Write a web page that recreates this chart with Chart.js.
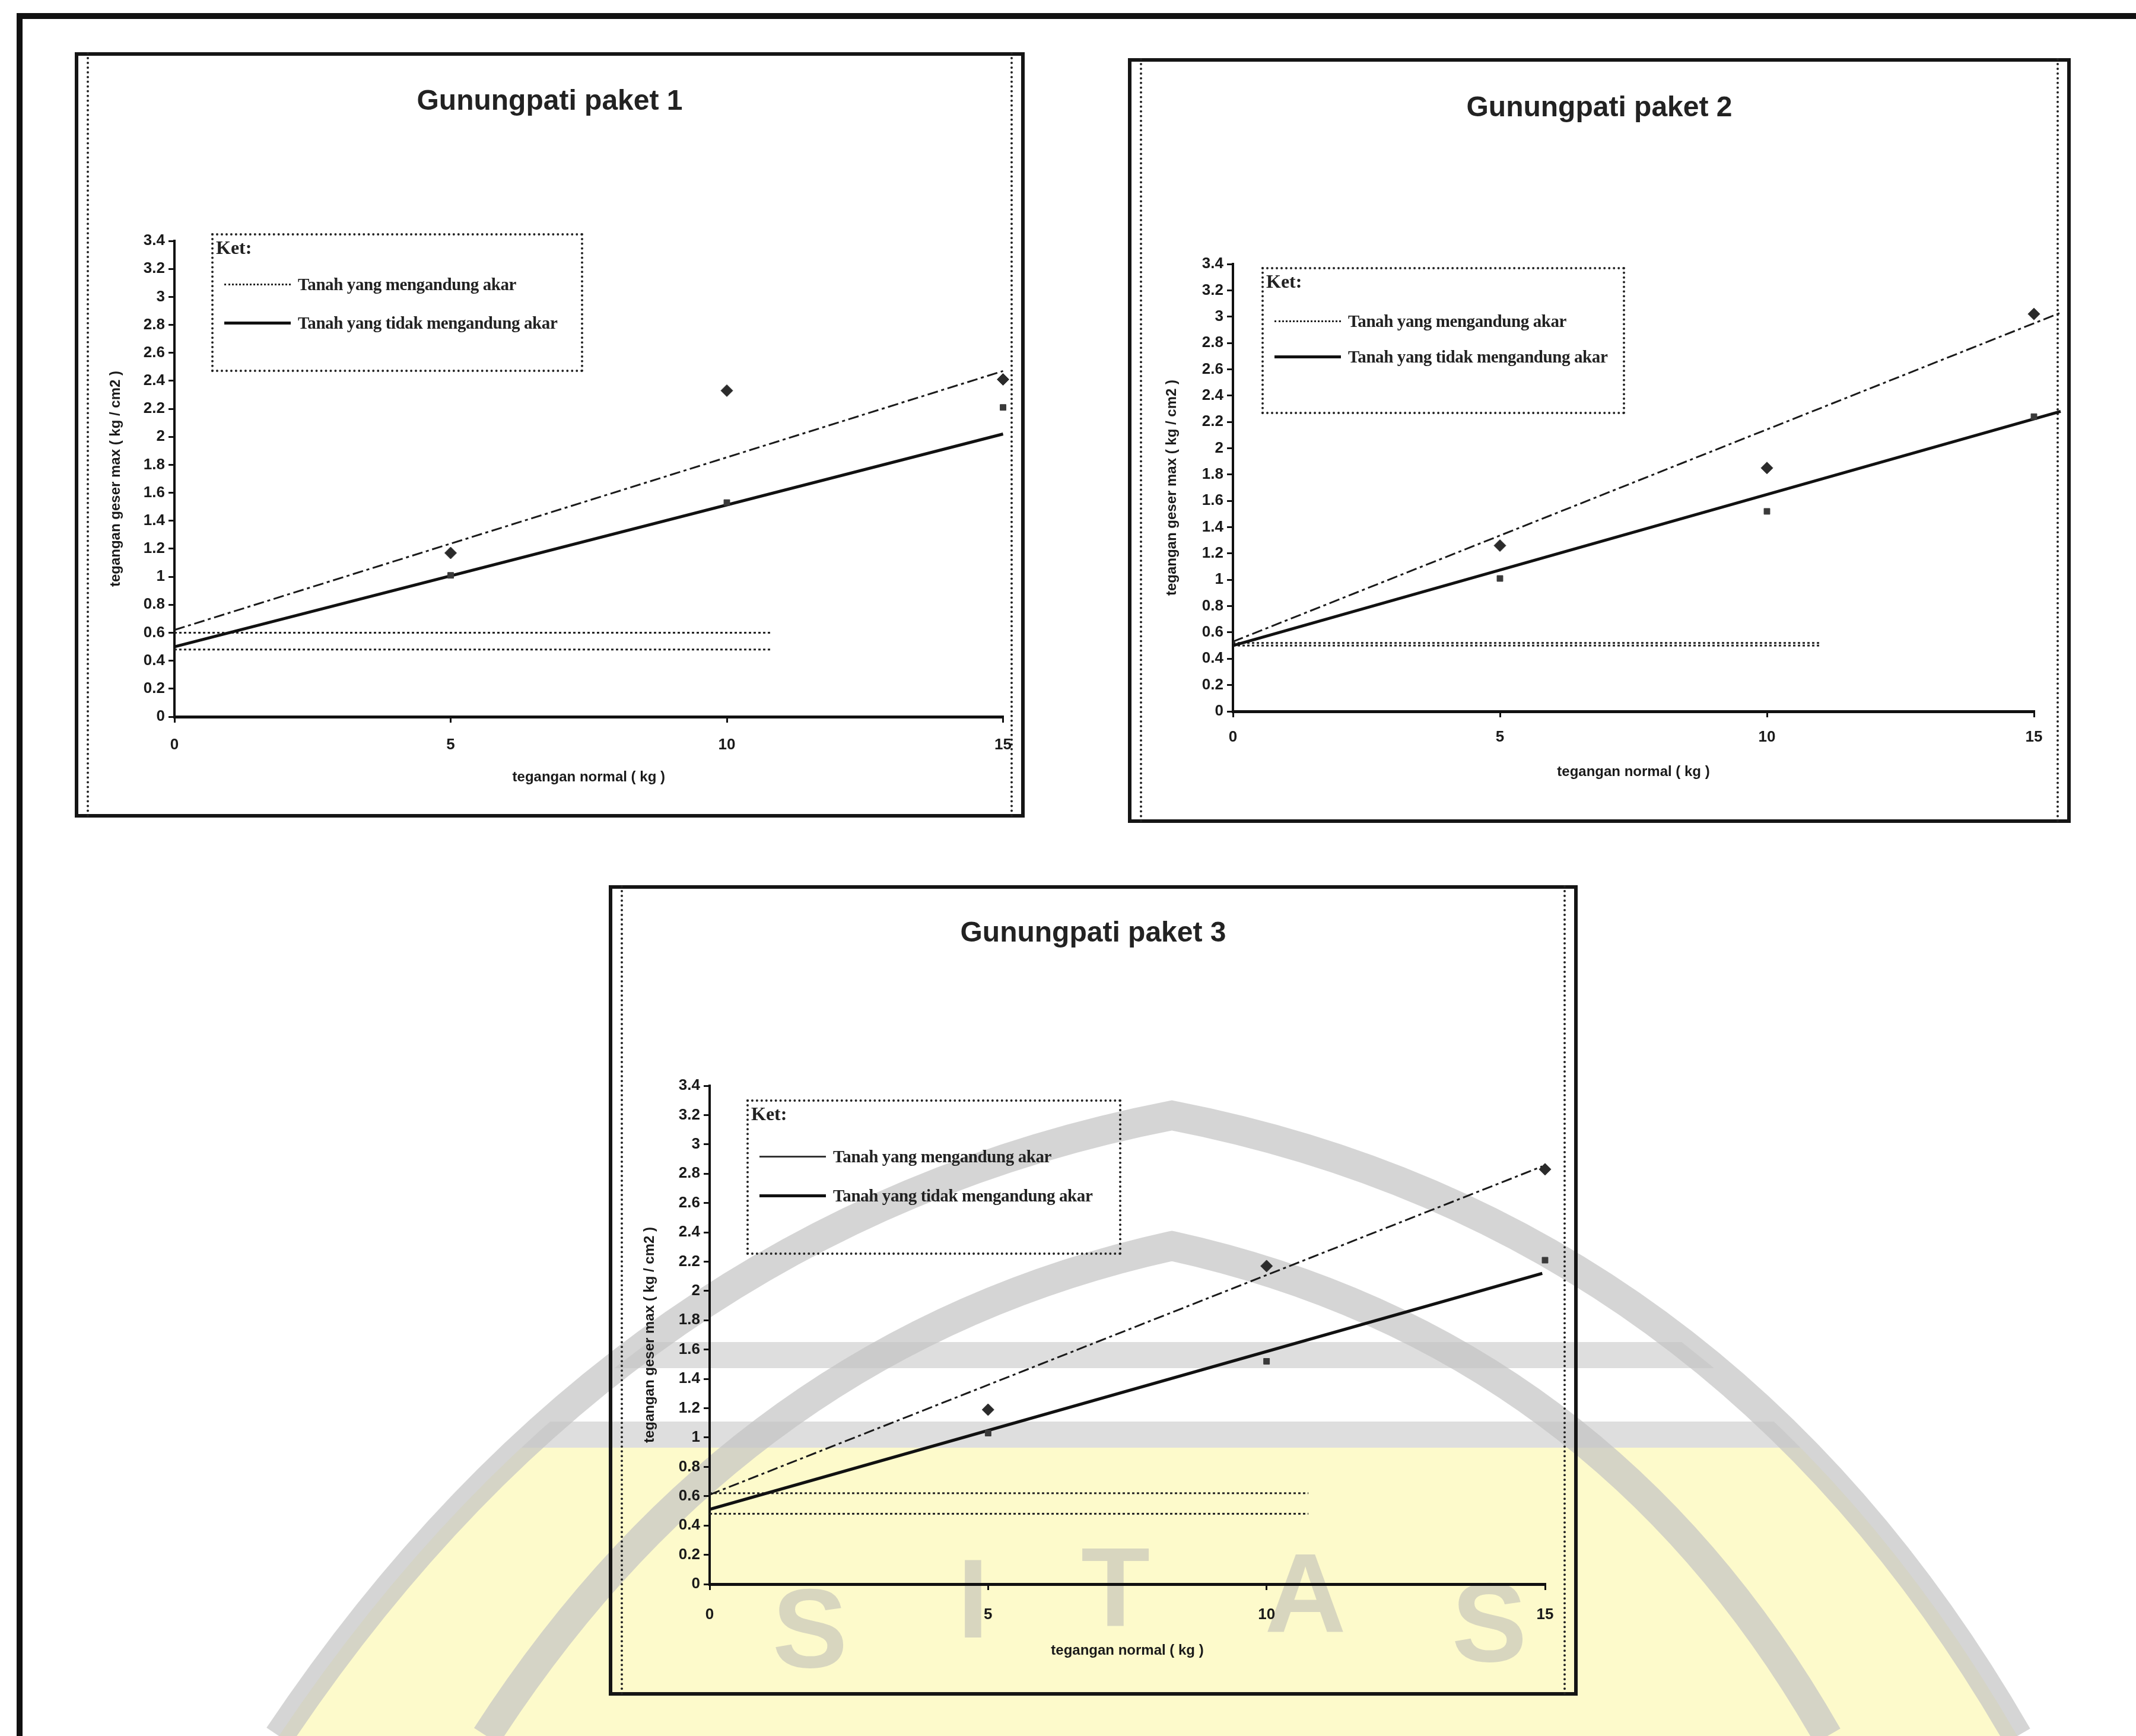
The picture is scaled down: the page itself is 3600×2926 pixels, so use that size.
<!DOCTYPE html>
<html>
<head>
<meta charset="utf-8">
<script src="https://cdn.jsdelivr.net/npm/chart.js@4.4.1/dist/chart.umd.min.js"></script>
<style>
  body { margin: 0; background: #fff; }
  #page { position: relative; width: 3600px; height: 2926px; overflow: hidden; background: #fff; }
  #wm { position: absolute; left: 0; top: 0; }
  .frameTop { position: absolute; left: 28px; top: 22px; width: 3572px; height: 10px; background: #111; }
  .frameLeft { position: absolute; left: 28px; top: 22px; width: 10px; height: 2904px; background: #111; }
  .box { position: absolute; box-sizing: border-box; border: 6px solid #151515; }
  .box .inner { position: absolute; top: -6px; bottom: -6px; left: 14px; right: 14px; border-left: 4px dotted #222; border-right: 4px dotted #222; }
  .panel canvas { position: absolute; }
  .title { position: absolute; font: bold 48px "Liberation Sans", Arial, sans-serif; color: #222; text-align: center; transform: translateY(-50%); }
  .legend { position: absolute; box-sizing: border-box; border: 4px dotted #222; font-family: "Liberation Serif", serif; font-weight: bold; color: #222; }
  .legend .ket { position: absolute; left: 4px; top: 2px; font-size: 32px; }
  .legend .row { position: absolute; left: 18px; height: 40px; display: flex; align-items: center; font-size: 29px; letter-spacing: -0.4px; white-space: nowrap; transform: translateY(-50%); }
  .legend .sample { width: 112px; margin-right: 12px; flex: none; }
</style>
</head>
<body>
<div id="page">
  <canvas id="wm" width="3600" height="2926"></canvas>
  <div class="frameTop"></div>
  <div class="frameLeft"></div>
</div>
<script>
// data
const xNormal = [5, 10, 15];
const seriesNames = ['Tanah yang mengandung akar', 'Tanah yang tidak mengandung akar'];
const yTicksMax = 3.4;

const p1Akar = [1.17, 2.33, 2.41];
const p1Tanpa = [1.01, 1.53, 2.21];
const p1TrendX = [0, 15];
const p1TrendAkar = [0.62, 2.47];
const p1TrendTanpa = [0.5, 2.02];
const p1Kohesi = [0.6, 0.48];
const p1KohesiX = [0, 10.8];

const p2Akar = [1.26, 1.85, 3.02];
const p2Tanpa = [1.01, 1.52, 2.24];
const p2TrendX = [0, 15.5];
const p2TrendAkar = [0.53, 3.03];
const p2TrendTanpa = [0.5, 2.28];
const p2Kohesi = [0.52, 0.5];
const p2KohesiX = [0, 11];

const p3Akar = [1.19, 2.17, 2.83];
const p3Tanpa = [1.03, 1.52, 2.21];
const p3TrendX = [0, 14.95];
const p3TrendAkar = [0.61, 2.85];
const p3TrendTanpa = [0.51, 2.12];
const p3Kohesi = [0.62, 0.48];
const p3KohesiX = [0, 10.75];

const panels = [
  { title: 'Gunungpati paket 1', box: {x:126, y:88, w:1601, h:1290}, plot: {l:294, r:1692, t:406, b:1208},
    legend: {x:356, y:393, w:627, h:234}, rows: [82, 147], xTitleOff: 103, yTitleX: 195, titleY: 168, tickPad: 22,
    akar: p1Akar, tanpa: p1Tanpa, trendX: p1TrendX, trendAkar: p1TrendAkar, trendTanpa: p1TrendTanpa, kohesi: p1Kohesi, kohesiX: p1KohesiX, firstSample: 'dotted' },
  { title: 'Gunungpati paket 2', box: {x:1901, y:98, w:1589, h:1289}, plot: {l:2078, r:3428, t:445, b:1199},
    legend: {x:2126, y:450, w:613, h:248}, rows: [87, 147], xTitleOff: 103, yTitleX: 1975, titleY: 179, tickPad: 18,
    akar: p2Akar, tanpa: p2Tanpa, trendX: p2TrendX, trendAkar: p2TrendAkar, trendTanpa: p2TrendTanpa, kohesi: p2Kohesi, kohesiX: p2KohesiX, firstSample: 'dotted' },
  { title: 'Gunungpati paket 3', box: {x:1026, y:1492, w:1633, h:1366}, plot: {l:1196, r:2604, t:1830, b:2670},
    legend: {x:1258, y:1853, w:632, h:262}, rows: [92, 158], xTitleOff: 113, yTitleX: 1095, titleY: 1570, tickPad: 26,
    akar: p3Akar, tanpa: p3Tanpa, trendX: p3TrendX, trendAkar: p3TrendAkar, trendTanpa: p3TrendTanpa, kohesi: p3Kohesi, kohesiX: p3KohesiX, firstSample: 'thin' }
];

// faint watermark of the scanned page
(function drawWatermark() {
  const c = document.getElementById('wm').getContext('2d');
  const outer = () => {
    c.beginPath();
    c.moveTo(470, 2926);
    c.quadraticCurveTo(1050, 2060, 1975, 1880);
    c.quadraticCurveTo(2900, 2060, 3400, 2926);
  };
  c.save();
  outer(); c.closePath(); c.clip();
  c.fillStyle = 'rgba(253, 250, 200, 0.95)';
  c.fillRect(0, 2440, 3600, 500);
  c.fillStyle = 'rgba(195, 195, 195, 0.55)';
  c.fillRect(0, 2262, 3600, 44);
  c.fillRect(0, 2396, 3600, 44);
  c.restore();
  c.strokeStyle = 'rgba(195, 195, 195, 0.7)';
  c.lineWidth = 50;
  outer(); c.stroke();
  c.beginPath();
  c.moveTo(820, 2926);
  c.quadraticCurveTo(1250, 2260, 1975, 2100);
  c.quadraticCurveTo(2700, 2260, 3080, 2926);
  c.stroke();
  c.fillStyle = 'rgba(180, 180, 180, 0.5)';
  c.font = 'bold 190px "Liberation Sans", Arial, sans-serif';
  c.textAlign = 'center';
  [['S', 1365, 2810], ['I', 1640, 2760], ['T', 1880, 2740], ['A', 2200, 2750], ['S', 2510, 2800]].forEach(t => c.fillText(t[0], t[1], t[2]));
})();

const tickFont = { family: '"Liberation Sans", Arial, sans-serif', size: 26, weight: 'bold' };
const axisTitleFont = { family: '"Liberation Sans", Arial, sans-serif', size: 24, weight: 'bold' };
const titleLine = 24 * 1.2;

function pts(xs, ys) { return xs.map((x, i) => ({ x: x, y: ys[i] })); }

const page = document.getElementById('page');
panels.forEach((p) => {
  const box = document.createElement('div');
  box.className = 'box';
  Object.assign(box.style, { left: p.box.x + 'px', top: p.box.y + 'px', width: p.box.w + 'px', height: p.box.h + 'px' });
  box.innerHTML = '<div class="inner"></div>';
  page.appendChild(box);

  const holder = document.createElement('div');
  holder.className = 'panel';
  const cv = document.createElement('canvas');
  cv.width = p.box.w; cv.height = p.box.h;
  Object.assign(cv.style, { left: p.box.x + 'px', top: p.box.y + 'px', width: p.box.w + 'px', height: p.box.h + 'px' });
  holder.appendChild(cv);
  page.appendChild(holder);

  const t = document.createElement('div');
  t.className = 'title';
  t.textContent = p.title;
  Object.assign(t.style, { left: p.box.x + 'px', width: p.box.w + 'px', top: p.titleY + 'px' });
  page.appendChild(t);

  const lg = document.createElement('div');
  lg.className = 'legend';
  Object.assign(lg.style, { left: p.legend.x + 'px', top: p.legend.y + 'px', width: p.legend.w + 'px', height: p.legend.h + 'px' });
  const s1 = p.firstSample === 'dotted' ? 'border-top:3px dotted #222' : 'border-top:3px solid #333';
  lg.innerHTML = '<div class="ket">Ket:</div>' +
    '<div class="row" style="top:' + p.rows[0] + 'px"><span class="sample" style="' + s1 + '"></span>' + seriesNames[0] + '</div>' +
    '<div class="row" style="top:' + p.rows[1] + 'px"><span class="sample" style="border-top:5px solid #111"></span>' + seriesNames[1] + '</div>';
  page.appendChild(lg);

  const tPad = 4;
  const padLeft = Math.round(p.yTitleX - p.box.x - titleLine / 2 - tPad);
  const yAxisW = p.plot.l - p.box.x - padLeft;
  const xAxisH = Math.round(p.xTitleOff + titleLine / 2 + tPad);
  const padBottom = p.box.y + p.box.h - p.plot.b - xAxisH;

  new Chart(cv, {
    type: 'scatter',
    data: {
      datasets: [
        { label: seriesNames[0], data: pts(xNormal, p.akar), pointStyle: 'rectRot', pointRadius: 10, clip: false,
          backgroundColor: '#2b2b2b', borderColor: '#2b2b2b' },
        { label: seriesNames[1], data: pts(xNormal, p.tanpa), pointStyle: 'rect', pointRadius: 7, clip: false,
          backgroundColor: '#3a3a3a', borderColor: '#3a3a3a' },
        { label: 'trend akar', data: pts(p.trendX, p.trendAkar), showLine: true, pointRadius: 0, clip: false,
          borderColor: '#1a1a1a', borderWidth: 3, borderDash: [18, 6, 5, 6] },
        { label: 'trend tanpa akar', data: pts(p.trendX, p.trendTanpa), showLine: true, pointRadius: 0, clip: false,
          borderColor: '#111', borderWidth: 5 },
        { label: 'c1', data: pts(p.kohesiX, [p.kohesi[0], p.kohesi[0]]), showLine: true, pointRadius: 0,
          borderColor: '#222', borderWidth: 3, borderDash: [4, 4] },
        { label: 'c2', data: pts(p.kohesiX, [p.kohesi[1], p.kohesi[1]]), showLine: true, pointRadius: 0,
          borderColor: '#222', borderWidth: 3, borderDash: [4, 4] }
      ]
    },
    options: {
      responsive: false,
      animation: false,
      layout: { padding: { left: padLeft, right: p.box.x + p.box.w - p.plot.r, top: p.plot.t - p.box.y, bottom: padBottom } },
      plugins: { legend: { display: false }, tooltip: { enabled: false }, title: { display: false } },
      scales: {
        x: {
          type: 'linear', min: 0, max: 15,
          ticks: { stepSize: 5, color: '#1a1a1a', font: tickFont, padding: p.tickPad, maxRotation: 0 },
          grid: { drawOnChartArea: false, drawTicks: true, tickLength: 10, color: '#111', lineWidth: 3 },
          border: { display: true, color: '#111', width: 5 },
          title: { display: true, text: 'tegangan normal ( kg )', color: '#1a1a1a', font: axisTitleFont, padding: tPad },
          afterFit: s => { s.height = xAxisH; }
        },
        y: {
          type: 'linear', min: 0, max: yTicksMax,
          ticks: { stepSize: 0.2, color: '#1a1a1a', font: tickFont, padding: 6,
            callback: v => String(Math.round(v * 10) / 10) },
          grid: { drawOnChartArea: false, drawTicks: true, tickLength: 10, color: '#111', lineWidth: 3 },
          border: { display: true, color: '#111', width: 4 },
          title: { display: true, text: 'tegangan geser max ( kg / cm2 )', color: '#1a1a1a', font: axisTitleFont, padding: tPad },
          afterFit: s => { s.width = yAxisW; }
        }
      }
    }
  });
});
</script>
</body>
</html>
